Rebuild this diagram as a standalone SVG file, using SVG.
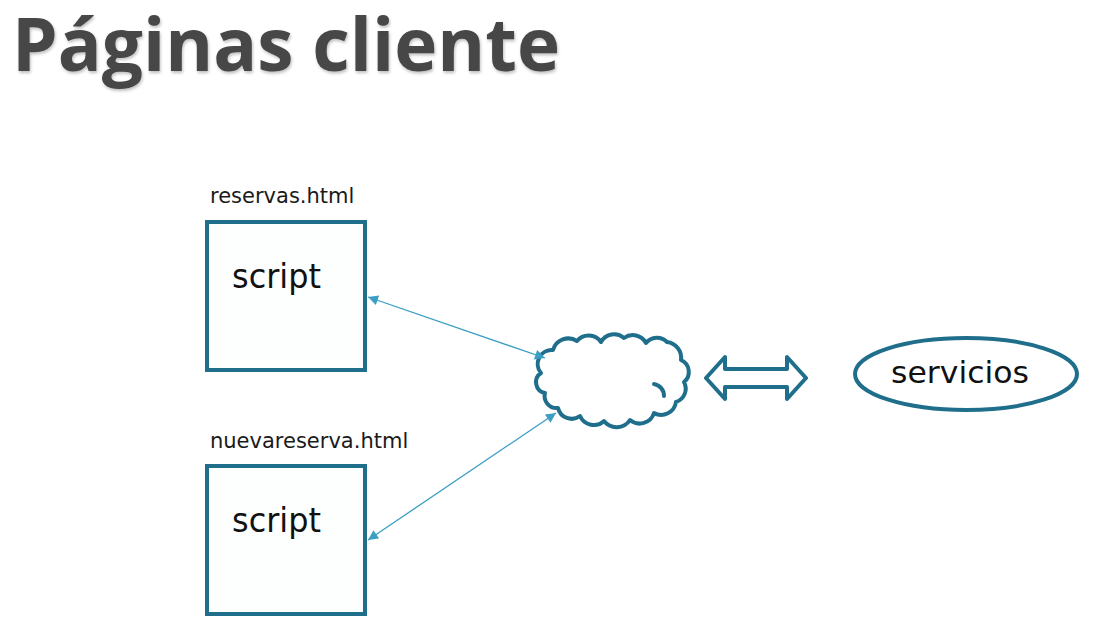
<svg xmlns="http://www.w3.org/2000/svg" width="1097" height="631" viewBox="0 0 1097 631">
<style>
.title{font-family:"Open Sans","DejaVu Sans",sans-serif;font-weight:700;font-size:74px;fill:#474747}
.lbl{font-family:"DejaVu Sans","Liberation Sans",sans-serif;font-size:21px;fill:#1a1a1a}
.big{font-family:"DejaVu Sans","Liberation Sans",sans-serif;font-size:33px;fill:#111}
.box{fill:#fdfefe;stroke:#1f6e8c;stroke-width:4}
.conn{stroke:#3b9fc3;stroke-width:1.3;fill:none;marker-start:url(#ah);marker-end:url(#ah)}
.shape{fill:#ffffff;stroke:#1f6e8c;stroke-width:4;stroke-linejoin:round}
</style>
<defs>
<marker id="ah" viewBox="0 0 10 10" refX="10" refY="5" markerWidth="13" markerHeight="10" markerUnits="userSpaceOnUse" orient="auto-start-reverse">
<path d="M0,0 L10,5 L0,10 z" fill="#3b9fc3"/>
</marker>
<filter id="sh" filterUnits="userSpaceOnUse" x="0" y="0" width="600" height="110">
<feDropShadow dx="1" dy="2" stdDeviation="1.5" flood-color="#000" flood-opacity="0.25"/>
</filter>
</defs>
<rect width="1097" height="631" fill="#ffffff"/>
<text class="title" x="12" y="71" textLength="548" lengthAdjust="spacingAndGlyphs" filter="url(#sh)">Páginas cliente</text>

<g id="reservas">
<text class="lbl" x="210" y="203">reservas.html</text>
<rect class="box" x="207" y="222" width="158" height="148"/>
<text class="big" x="232" y="288" textLength="89" lengthAdjust="spacingAndGlyphs">script</text>
</g>

<g id="nuevareserva">
<text class="lbl" x="210" y="448">nuevareserva.html</text>
<rect class="box" x="207" y="466" width="158" height="148"/>
<text class="big" x="232" y="532" textLength="89" lengthAdjust="spacingAndGlyphs">script</text>
</g>

<g id="cloud">
<path class="shape" d="M541,373 A14,14 0 0 1 553,350 A16,16 0 0 1 577,341 A15,15 0 0 1 601,342 A15,15 0 0 1 624,338 A15,15 0 0 1 646,343 A14,14 0 0 1 667,342 A16,16 0 0 1 681,360 A13,13 0 0 1 684,382 A14,14 0 0 1 676,402 A15,15 0 0 1 654,413 A15,15 0 0 1 630,420 A16,16 0 0 1 604,421 A15,15 0 0 1 580,416 A14,14 0 0 1 558,408 A12,12 0 0 1 545,393 A11,11 0 0 1 541,373 Z"/>
<path d="M654,384 A12,12 0 0 1 664,396" fill="none" stroke="#1f6e8c" stroke-width="4" stroke-linecap="round"/>
</g>

<g id="double-arrow">
<path class="shape" d="M706,378 L725,357 L725,369 L787,369 L787,357 L806,378 L787,399 L787,387 L725,387 L725,399 Z"/>
</g>

<g id="servicios">
<ellipse class="shape" cx="966" cy="374" rx="111" ry="36" stroke-width="3.5"/>
<text class="big" x="960" y="383" text-anchor="middle" textLength="138" lengthAdjust="spacingAndGlyphs" style="font-size:31px">servicios</text>
</g>

<g id="connectors">
<line class="conn" x1="368" y1="297" x2="545" y2="358"/>
<line class="conn" x1="368" y1="540" x2="556" y2="413"/>
</g>
</svg>
